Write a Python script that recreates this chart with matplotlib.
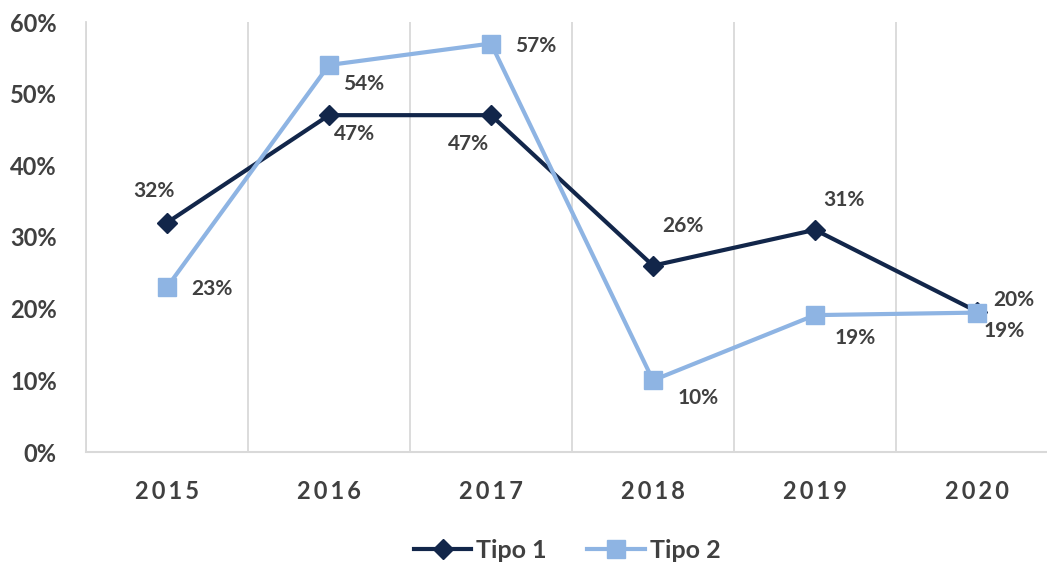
import matplotlib
matplotlib.use("Agg")
import matplotlib.pyplot as plt

years = ["2015", "2016", "2017", "2018", "2019", "2020"]
tipo1 = [32, 47, 47, 26, 31, 19.6]
tipo2 = [23, 54, 57, 10, 19.1, 19.45]

# label offsets in pixels (dx, dy) for each point
off1 = [(-13, 32), (26, -19), (-22, -29), (30, 40), (29, 30), (37, 12)]
off2 = [(45, -2), (35, -19), (45, -2), (45, -18), (40, -23), (27, -18)]

plt.rcParams['font.family'] = ['Lato', 'DejaVu Sans']
text_color = "#404040"
grid_color = "#d9d9d9"
c1 = "#12264a"
c2 = "#8eb4e3"

fig = plt.figure(figsize=(10.47, 5.68), dpi=100)
ax = fig.add_axes([86 / 1047, 1 - 452 / 568, 972 / 1047, 430 / 568])

x = list(range(len(years)))
ax.plot(x, tipo1, color=c1, lw=3, marker="D", markersize=10, label="Tipo 1", zorder=3)
ax.plot(x, tipo2, color=c2, lw=3, marker="s", markersize=13, label="Tipo 2", zorder=4)

for xi, v, (dx, dy) in zip(x, tipo1, off1):
    ax.annotate(f"{v:.0f}%", (xi, v), xytext=(dx * 0.72, dy * 0.72), textcoords="offset points",
                ha="center", va="center", fontsize=15, fontweight="bold", color=text_color, zorder=5)
for xi, v, (dx, dy) in zip(x, tipo2, off2):
    ax.annotate(f"{v:.0f}%", (xi, v), xytext=(dx * 0.72, dy * 0.72), textcoords="offset points",
                ha="center", va="center", fontsize=15, fontweight="bold", color=text_color, zorder=5)

ax.set_xlim(-0.5, 5.5)
ax.set_ylim(0, 60)
ax.set_yticks(range(0, 61, 10))
ax.set_yticklabels([f"{t}%" for t in range(0, 61, 10)], fontsize=17, fontweight="bold", color=text_color)
ax.set_xticks(x)
ax.set_xticklabels(["\u2009".join(y) for y in years], fontsize=17, fontweight="bold", color=text_color)
ax.set_xticks([i + 0.5 for i in range(-1, 6)], minor=True)
ax.grid(True, which="minor", axis="x", color=grid_color, lw=1.3)
ax.tick_params(axis="both", which="both", length=0)
ax.tick_params(axis="y", pad=21)
ax.tick_params(axis="x", pad=20)

for s in ["top", "right"]:
    ax.spines[s].set_visible(False)
ax.spines["left"].set_color(grid_color)
ax.spines["left"].set_linewidth(1.3)
ax.spines["bottom"].set_color(grid_color)
ax.spines["bottom"].set_linewidth(1.5)

leg = fig.legend(loc="center", bbox_to_anchor=(567 / 1047, 1 - 550 / 568), ncol=2, frameon=False,
                 prop={"size": 18, "weight": "bold"}, handlelength=2.3, columnspacing=1.6, handletextpad=0.2)
for t in leg.get_texts():
    t.set_color(text_color)

fig.savefig("out.png", dpi=100)
